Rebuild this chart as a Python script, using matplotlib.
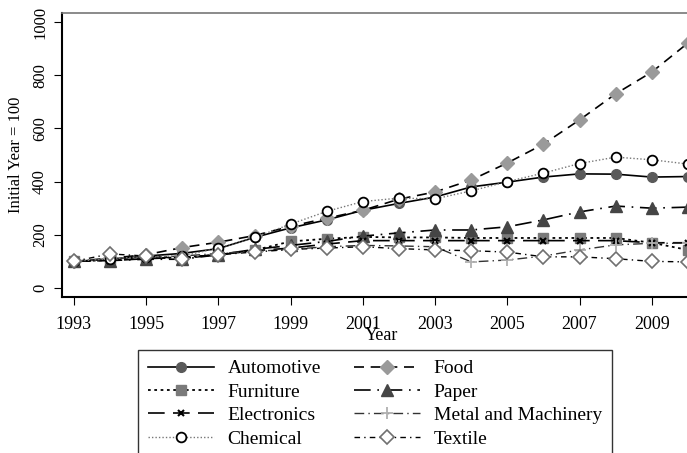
import matplotlib
matplotlib.use("Agg")
import matplotlib.pyplot as plt

years = list(range(1993, 2011))

automotive = [100, 108, 120, 130, 148, 190, 226, 256, 292, 318, 342, 380, 398, 417, 429, 428, 417, 419]
food = [100, 112, 125, 152, 172, 197, 232, 262, 292, 334, 361, 406, 470, 541, 632, 730, 812, 921]
furniture = [100, 105, 112, 115, 125, 142, 175, 185, 192, 190, 190, 188, 188, 188, 188, 188, 170, 143]
paper = [100, 103, 108, 108, 125, 145, 160, 175, 195, 207, 218, 218, 230, 256, 286, 308, 300, 304]
electronics = [100, 103, 110, 115, 125, 140, 150, 165, 178, 178, 178, 178, 178, 178, 178, 178, 170, 170]
metal = [100, 110, 115, 120, 130, 138, 145, 155, 160, 158, 155, 98, 105, 120, 143, 162, 168, 168]
chemical = [100, 110, 118, 120, 150, 190, 240, 288, 325, 338, 335, 365, 400, 432, 468, 492, 482, 466]
textile = [100, 128, 120, 110, 125, 135, 145, 150, 155, 148, 143, 140, 135, 117, 117, 110, 100, 98]

xticks = list(range(1993, 2011, 2))
yticks = [0, 200, 400, 600, 800, 1000]

plt.rcParams['font.family'] = ['Liberation Serif', 'DejaVu Serif']

fig = plt.figure(figsize=(6.87, 4.53), dpi=100)
# axes runs past the right edge of the figure, like the cropped original
ax = fig.add_axes([62/687, 156/453, 640/687, 284/453])

lines = {}
lines['Automotive'] = ax.plot(years, automotive, color='black', lw=1.2, ls='-',
                              marker='o', ms=7, mfc='#5a5a5a', mec='#5a5a5a')[0]
lines['Food'] = ax.plot(years, food, color='black', lw=1.2, ls=(0, (6, 4)),
                        marker='D', ms=7, mfc='#9a9a9a', mec='#9a9a9a')[0]
lines['Furniture'] = ax.plot(years, furniture, color='black', lw=1.3, ls=(0, (1.5, 2)),
                             marker='s', ms=7, mfc='#7a7a7a', mec='#7a7a7a')[0]
lines['Paper'] = ax.plot(years, paper, color='black', lw=1.2, ls=(0, (10, 4, 1, 4)),
                         marker='^', ms=8, mfc='#454545', mec='#454545')[0]
lines['Electronics'] = ax.plot(years, electronics, color='black', lw=1.2, ls=(0, (10, 5)),
                               marker='x', ms=5, mew=1.5, mfc='black', mec='black')[0]
lines['Metal and Machinery'] = ax.plot(years, metal, color='#333333', lw=1.0, ls=(0, (7, 3, 1, 3)),
                                       marker='+', ms=8, mew=1.3, mec='#b0b0b0')[0]
lines['Chemical'] = ax.plot(years, chemical, color='#777777', lw=1.0, ls=(0, (1, 1.5)),
                            marker='o', ms=7, mfc='white', mec='black', mew=1.3)[0]
lines['Textile'] = ax.plot(years, textile, color='black', lw=1.0, ls=(0, (4, 3, 1, 3)),
                           marker='D', ms=7, mfc='white', mec='#707070', mew=1.2)[0]

ax.set_xlim(1992.67, 2010.39)
ax.set_ylim(-34, 1034)
ax.set_xticks(xticks)
ax.set_yticks(yticks)
ax.tick_params(axis='x', labelsize=13, direction='out', length=6, pad=8)
ax.tick_params(axis='y', labelsize=12, direction='out', length=6, pad=4)
for lab in ax.get_yticklabels():
    lab.set_rotation(90)
    lab.set_va('center')

ax.spines['left'].set_linewidth(1.5)
ax.spines['bottom'].set_linewidth(1.5)
ax.spines['top'].set_color('#777777')
ax.spines['top'].set_linewidth(1.2)

ax.set_xlabel('Year', fontsize=13, labelpad=-5)
ax.set_ylabel('Initial Year = 100', fontsize=12, labelpad=6)

order = ['Automotive', 'Furniture', 'Electronics', 'Chemical',
         'Food', 'Paper', 'Metal and Machinery', 'Textile']
leg = fig.legend([lines[k] for k in order], order, ncol=2, loc='upper left',
                 bbox_to_anchor=(138/687, 1 - 350/453), borderaxespad=0,
                 fontsize=14, frameon=True, fancybox=False, edgecolor='black',
                 handlelength=3.4, handletextpad=0.7, columnspacing=1.7,
                 labelspacing=0.3, borderpad=0.5)
leg.get_frame().set_linewidth(1.0)

fig.savefig('out.png', dpi=100)
